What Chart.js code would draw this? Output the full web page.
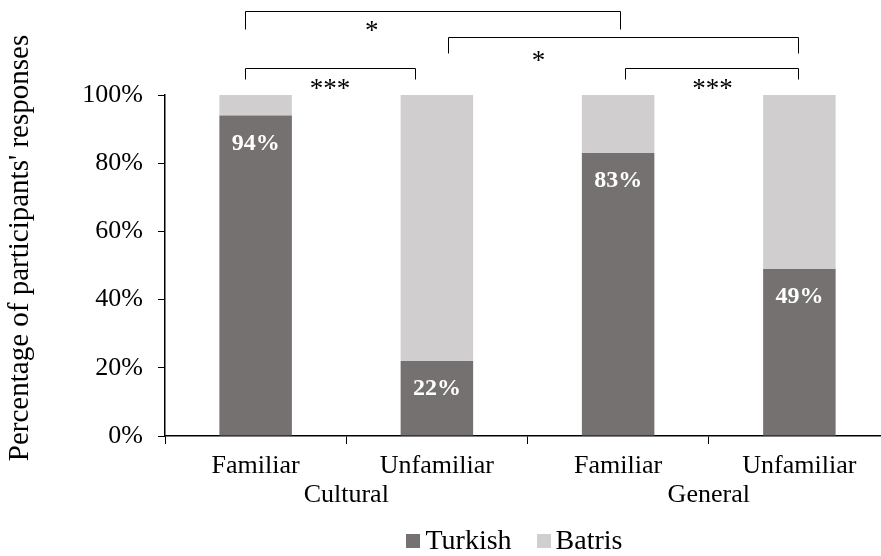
<!DOCTYPE html>
<html>
<head>
<meta charset="utf-8">
<script src="https://cdn.jsdelivr.net/npm/chart.js@4"></script>
<style>
  html, body { margin: 0; padding: 0; background: #fff; overflow: hidden; }
  #wrap { width: 890px; height: 556px; position: relative; }
</style>
</head>
<body>
<div id="wrap"><canvas id="chart"></canvas></div>
<script>
// ── Data ──────────────────────────────────────────────────────────────────────
const CATEGORIES = ['Familiar', 'Unfamiliar', 'Familiar', 'Unfamiliar'];
const GROUPS = ['Cultural', 'General'];
const SERIES = ['Turkish', 'Batris'];
const TURKISH = [94, 22, 83, 49];
const BATRIS = [6, 78, 17, 51];
const Y_TICKS = [0, 20, 40, 60, 80, 100];
const Y_TITLE = "Percentage of participants' responses";

// significance brackets: from / to / mark position in category units, level in % units
const BRACKET_FROM  = [-0.06, 1.06, -0.06, 2.04];
const BRACKET_TO    = [2.01, 2.99, 0.88, 2.99];
const BRACKET_LEVEL = [124.5, 117, 108, 108];
const BRACKET_MARK  = ['*', '*', '***', '***'];
const BRACKET_MARK_AT = [0.64, 1.56, 0.41, 2.52];

// ── Style ─────────────────────────────────────────────────────────────────────
const SERIF = '"Liberation Serif", "Times New Roman", serif';
const COLORS = ['#767171', '#d0cece'];
const LEG = [18, 16, 11, 11];       // bracket leg length, px
const MARK_GAP = [15, 19, 16, 16];  // bracket line -> mark centre, px

// ── Helpers ───────────────────────────────────────────────────────────────────
function xAt(scale, pos) {
  const step = scale.getPixelForValue(1) - scale.getPixelForValue(0);
  return scale.getPixelForValue(0) + pos * step;
}

// ── Plugins ───────────────────────────────────────────────────────────────────
const extras = {
  id: 'extras',
  afterDatasetsDraw(chart) {
    const { ctx, scales: { x, y }, chartArea } = chart;
    ctx.save();
    ctx.textAlign = 'center';
    ctx.textBaseline = 'middle';

    // value labels in Turkish segments
    ctx.fillStyle = '#fff';
    ctx.font = 'bold 24px ' + SERIF;
    TURKISH.forEach((v, i) => {
      ctx.fillText(v + '%', x.getPixelForValue(i), y.getPixelForValue(v) + 28);
    });

    // significance brackets
    ctx.strokeStyle = '#000';
    ctx.lineWidth = 1;
    ctx.fillStyle = '#000';
    ctx.font = '27px ' + SERIF;
    BRACKET_LEVEL.forEach((lvl, k) => {
      const x1 = Math.round(xAt(x, BRACKET_FROM[k])) + 0.5;
      const x2 = Math.round(xAt(x, BRACKET_TO[k])) + 0.5;
      const yt = Math.round(y.getPixelForValue(lvl)) + 0.5;
      ctx.beginPath();
      ctx.moveTo(x1, yt + LEG[k]);
      ctx.lineTo(x1, yt);
      ctx.lineTo(x2, yt);
      ctx.lineTo(x2, yt + LEG[k]);
      ctx.stroke();
      ctx.fillText(BRACKET_MARK[k], xAt(x, BRACKET_MARK_AT[k]), yt + MARK_GAP[k] + 5);
    });

    // group labels under the category labels
    ctx.font = '26px ' + SERIF;
    GROUPS.forEach((g, k) => {
      const cx = (x.getPixelForValue(2 * k) + x.getPixelForValue(2 * k + 1)) / 2;
      ctx.fillText(g, cx, y.bottom + 59);
    });

    // y axis title
    ctx.save();
    ctx.translate(20, 248);
    ctx.rotate(-Math.PI / 2);
    ctx.font = '29px ' + SERIF;
    ctx.fillText(Y_TITLE, 0, 0);
    ctx.restore();

    // legend
    ctx.font = '28px ' + SERIF;
    ctx.textAlign = 'left';
    const box = 14, gap = 5, spacing = 25;
    const widths = SERIES.map(s => ctx.measureText(s).width);
    const total = widths.reduce((a, w) => a + box + gap + w, 0) + spacing * (SERIES.length - 1);
    let lx = (chartArea.left + chartArea.right) / 2 - 13 - total / 2;
    const ly = 541;
    SERIES.forEach((s, k) => {
      ctx.fillStyle = COLORS[k];
      ctx.fillRect(Math.round(lx), ly - 7, box, box);
      ctx.fillStyle = '#000';
      ctx.fillText(s, lx + box + gap, ly + 1);
      lx += box + gap + widths[k] + spacing;
    });
    ctx.restore();
  }
};

// ── Chart ─────────────────────────────────────────────────────────────────────
new Chart(document.getElementById('chart'), {
  type: 'bar',
  data: {
    labels: CATEGORIES,
    datasets: [
      { label: SERIES[0], data: TURKISH, backgroundColor: COLORS[0], barPercentage: 0.8, categoryPercentage: 0.5 },
      { label: SERIES[1], data: BATRIS, backgroundColor: COLORS[1], barPercentage: 0.8, categoryPercentage: 0.5 },
    ],
  },
  options: {
    responsive: true,
    maintainAspectRatio: false,
    animation: false,
    layout: { padding: { top: 95, left: 0, right: 0, bottom: 0 } },
    plugins: {
      tooltip: { enabled: false },
      legend: { display: false },
    },
    scales: {
      x: {
        stacked: true,
        grid: { display: true, drawOnChartArea: false, drawTicks: true, tickLength: 8, color: '#000', offset: true },
        border: { color: '#000', width: 1.5 },
        ticks: { color: '#000', font: { family: SERIF, size: 26 }, padding: 7, maxRotation: 0 },
        afterFit: s => { s.height = 120; },
      },
      y: {
        stacked: true,
        min: 0, max: 100,
        afterBuildTicks: s => { s.ticks = Y_TICKS.map(v => ({ value: v })); },
        grid: { display: true, drawOnChartArea: false, drawTicks: true, tickLength: 7, color: '#000' },
        border: { color: '#000', width: 1.5 },
        ticks: { color: '#000', font: { family: SERIF, size: 26 }, padding: 15, callback: v => v + '%' },
        afterFit: s => { s.width = 165; },
      },
    },
  },
  plugins: [extras],
});
</script>
</body>
</html>
